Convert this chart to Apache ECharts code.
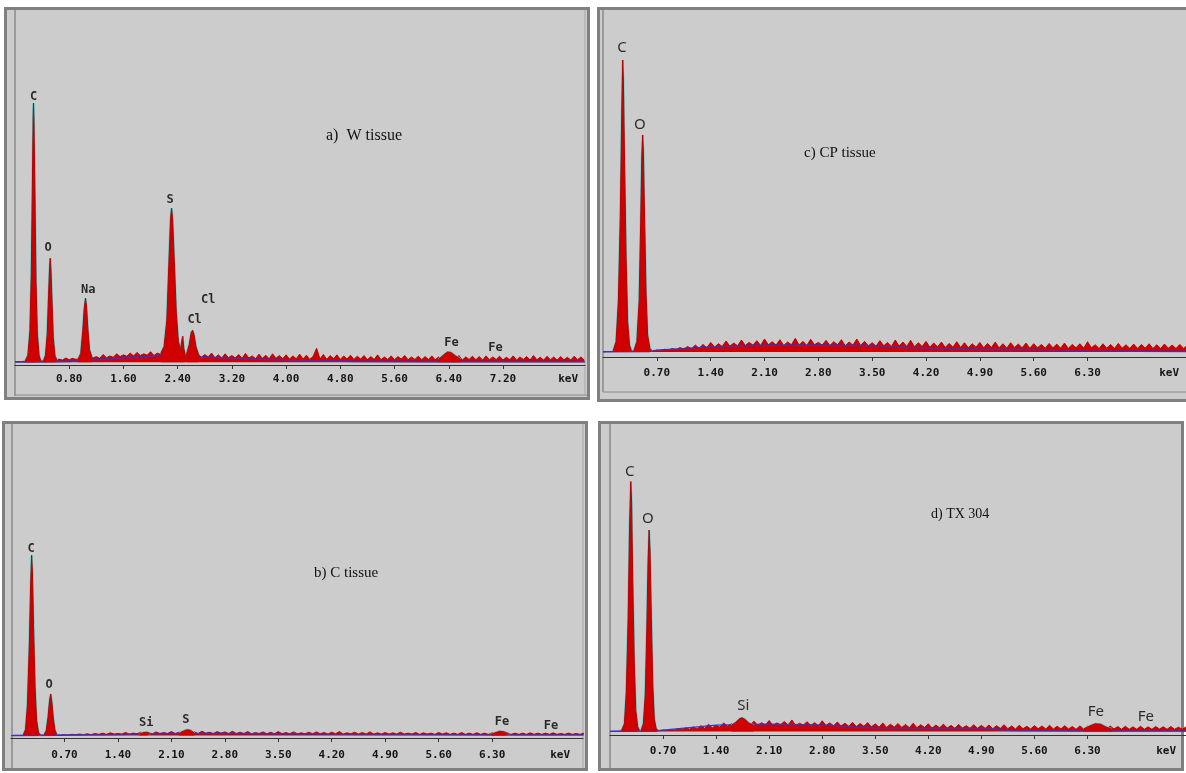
<!DOCTYPE html>
<html><head><meta charset="utf-8">
<script src="https://cdn.jsdelivr.net/npm/echarts@6/dist/echarts.min.js"></script>
<style>html,body{margin:0;padding:0;background:#fff}#chart{width:1186px;height:773px}</style>
</head><body><div id="chart"></div>
<script>
// ---------- shared ----------
const STEP = 0.05; // keV spacing of the background channel values

// ---------- panel a) W tissue ----------
const wTitle = 'a)  W tissue';
const wBackground = [
  1,2,2,3,3,4,4,3,4,5, 4,6,5,9,6,12,7,11,8,13,
  9,14,10,12,16,11,22,13,18,14, 24,16,21,17,26,18,28,19,24,20,
  30,19,26,22,34,24,28,20,32,18, 26,16,27,15,24,14,22,15,26,13,
  21,12,24,13,19,12,22,11,25,12, 18,10,23,11,20,10,24,11,19,10,
  21,9,18,10,23,9,20,8,17,40, 9,22,8,19,10,21,8,18,9,20,
  8,17,9,19,7,16,8,21,7,15, 8,18,7,16,9,19,7,15,8,17,
  7,16,8,18,7,15,9,20,8,17, 7,19,6,15,8,17,7,16,6,18,
  7,15,8,17,6,14,7,18,6,15, 8,16,6,19,7,14,6,17,7,15,
  6,16,7,14,6,17,7,15,6
];
const wPeaks = [
  [[0.15,3],[0.19,20],[0.22,90],[0.24,250],[0.255,480],[0.268,700],[0.273,740],[0.28,690],[0.295,470],[0.31,230],[0.33,80],[0.355,20],[0.38,4]],
  [[0.42,4],[0.45,20],[0.475,80],[0.495,190],[0.51,270],[0.52,297],[0.53,265],[0.545,180],[0.565,70],[0.59,18],[0.62,5]],
  [[0.93,8],[0.97,25],[1.0,90],[1.02,150],[1.04,183],[1.055,160],[1.075,95],[1.1,35],[1.14,12]],
  [[2.15,25],[2.2,45],[2.24,120],[2.27,280],[2.295,410],[2.31,440],[2.325,410],[2.35,290],[2.38,140],[2.41,60],[2.45,30]],
  [[2.44,30],[2.46,60],[2.475,74],[2.49,40],[2.51,22]],
  [[2.53,22],[2.57,50],[2.6,85],[2.62,91],[2.64,80],[2.67,45],[2.71,20]],
  [[6.25,8],[6.32,20],[6.38,29],[6.43,28],[6.5,18],[6.58,8]]
];
const wContinuum = [[0,0],[0.6,1],[0.8,2],[1.2,7],[1.6,12],[2.0,17],[2.2,20],[2.6,16],[3.2,11],[4.0,5],[5.0,2],[6.0,1],[8.41,1]];
const wLabelNames  = ['C','O','Na','S','Cl','Cl','Fe','Fe'];
const wLabelKeV    = [0.273,0.49,1.08,2.29,2.85,2.65,6.44,7.09];
const wLabelCounts = [757,326,206,463,177,120,54,40];
const wTickValues  = [0.8,1.6,2.4,3.2,4.0,4.8,5.6,6.4,7.2];
const wAxisMax = 8.41;

// ---------- panel c) CP tissue ----------
const cpTitle = 'c) CP tissue';
const cpBackground = [
  0,1,1,2,2,3,3,2,3,2, 2,3,2,3,5,4,8,5,10,6,
  13,8,16,9,20,11,22,12,28,14, 24,16,32,17,26,18,35,19,28,20,
  33,19,38,21,30,20,36,19,29,21, 40,20,31,19,37,21,28,20,34,19,
  30,21,36,18,29,20,38,19,31,18, 27,17,33,18,28,16,35,17,29,16,
  34,15,27,16,31,14,26,15,29,13, 25,14,30,13,27,12,24,14,28,12,
  25,13,29,12,24,11,27,13,23,12, 26,11,24,12,22,11,25,12,23,11,
  26,10,22,12,24,11,30,12,21,10, 24,11,22,10,25,11,21,10,23,10,
  22,11,24,10,21,10,23,11,20,10,22,10,21
];
const cpPeaks = [
  [[0.13,2],[0.17,30],[0.2,150],[0.225,400],[0.245,720],[0.256,859],[0.265,800],[0.28,560],[0.3,280],[0.32,90],[0.345,20],[0.37,3]],
  [[0.4,3],[0.44,30],[0.47,150],[0.49,380],[0.505,580],[0.516,638],[0.525,590],[0.54,400],[0.56,170],[0.58,50],[0.61,10],[0.64,3]]
];
const cpContinuum = [[0,0],[0.6,1],[0.7,5],[1.4,15],[2.1,19],[2.8,19],[3.5,18],[4.0,12],[4.9,7],[5.6,6],[6.3,2],[7.58,1]];
const cpLabelNames  = ['C','O'];
const cpLabelKeV    = [0.247,0.48];
const cpLabelCounts = [894,668];
const cpTickValues  = [0.7,1.4,2.1,2.8,3.5,4.2,4.9,5.6,6.3];
const cpAxisMax = 7.58;

// ---------- panel b) C tissue ----------
const cTitle = 'b) C tissue';
const cBackground = [
  0,1,1,1,2,2,2,2,2,2, 2,2,2,2,3,2,4,3,5,3,
  6,3,7,4,8,4,9,5,7,5, 10,5,8,6,11,6,9,6,12,7,
  10,7,13,7,11,8,15,8,12,7, 14,8,11,7,13,8,12,7,14,7,
  11,7,13,6,10,7,12,6,11,6, 13,6,10,6,12,6,9,6,11,6,
  12,6,10,5,11,6,13,5,9,6, 11,5,10,5,12,5,9,5,10,5,
  9,5,11,5,8,5,10,4,9,5, 8,4,10,5,9,4,8,4,10,4,
  8,4,9,4,8,4,9,4,8,4, 9,4,8,4,8,4,9,4,8,4,
  8,4,9,4,7,4,8,4,7,4,8
];
const cPeaks = [
  [[0.16,2],[0.19,20],[0.215,100],[0.24,300],[0.258,500],[0.27,590],[0.28,540],[0.295,360],[0.315,160],[0.335,50],[0.36,10],[0.39,2]],
  [[0.43,2],[0.46,15],[0.485,60],[0.505,115],[0.52,136],[0.535,110],[0.555,55],[0.575,18],[0.6,3]],
  [[1.68,5],[1.74,10],[1.78,11],[1.83,6]],
  [[2.2,7],[2.26,15],[2.31,19],[2.35,17],[2.4,8]],
  [[6.28,4],[6.35,10],[6.4,14],[6.46,12],[6.53,4]]
];
const cContinuum = [[0,0],[0.6,1],[1.4,3],[2.1,6],[2.8,6],[3.5,5],[4.2,4],[5.6,3],[6.3,2],[7.49,2]];
const cLabelNames  = ['C','O','Si','S','Fe','Fe'];
const cLabelKeV    = [0.264,0.50,1.77,2.29,6.43,7.07];
const cLabelCounts = [610,165,41,51,44,31];
const cTickValues  = [0.7,1.4,2.1,2.8,3.5,4.2,4.9,5.6,6.3];
const cAxisMax = 7.49;

// ---------- panel d) TX 304 ----------
const txTitle = 'd) TX 304';
const txBackground = [
  0,1,1,2,2,2,2,2,2,2, 2,2,2,3,4,3,6,4,9,5,
  12,7,15,8,19,10,24,12,20,14, 28,17,25,19,31,20,27,21,34,20,
  29,21,36,20,28,22,33,21,38,20, 27,21,32,20,29,19,35,20,28,19,
  31,18,27,17,30,16,26,17,29,15, 25,14,28,13,24,14,26,13,23,12,
  27,12,22,13,25,11,21,12,24,11, 20,10,23,11,19,10,22,10,20,10,
  21,9,19,10,22,9,18,8,20,9, 17,8,19,9,18,8,20,8,17,8,
  19,8,16,7,18,8,17,7,19,8, 16,7,18,8,16,7,17,7,15,7,
  17,7,15,7,16,8,15,7,16,7,14,7,15
];
const txPeaks = [
  [[0.15,2],[0.19,25],[0.215,130],[0.24,380],[0.258,680],[0.274,829],[0.285,760],[0.3,500],[0.32,230],[0.34,70],[0.365,15],[0.39,3]],
  [[0.41,3],[0.44,25],[0.465,120],[0.485,330],[0.502,560],[0.516,668],[0.528,600],[0.545,380],[0.565,150],[0.585,40],[0.61,8],[0.64,3]],
  [[1.6,20],[1.66,30],[1.71,42],[1.74,45],[1.78,40],[1.83,28],[1.9,20]],
  [[6.25,8],[6.33,18],[6.4,25],[6.47,24],[6.55,14],[6.62,8]]
];
const txContinuum = [[0,0],[0.6,1],[0.7,4],[1.4,21],[2.1,24],[2.8,21],[3.5,11],[4.2,10],[4.9,10],[5.3,3],[6.3,1],[7.6,1]];
const txLabelNames  = ['C','O','Si','Fe','Fe'];
const txLabelKeV    = [0.26,0.50,1.76,6.41,7.07];
const txLabelCounts = [861,705,84,64,48];
const txTickValues  = [0.7,1.4,2.1,2.8,3.5,4.2,4.9,5.6,6.3];
const txAxisMax = 7.6;

// ---------- layout / style (not data) ----------
const panels = [
  {title:wTitle, bg:wBackground, peaks:wPeaks, cont:wContinuum, names:wLabelNames, kev:wLabelKeV, cnt:wLabelCounts,
   ticks:wTickValues, max:wAxisMax,
   grid:{left:15,right:601,top:12,bottom:408}, yMin:-8, margin:9, nameGap:-7,
   titlePos:{left:326,top:128}, titleSize:16, labelFont:'DejaVu Sans Mono', labelSize:12, labelBold:'bold'},
  {title:cpTitle, bg:cpBackground, peaks:cpPeaks, cont:cpContinuum, names:cpLabelNames, kev:cpLabelKeV, cnt:cpLabelCounts,
   ticks:cpTickValues, max:cpAxisMax,
   grid:{left:603,right:0,top:12,bottom:416}, yMin:-15, margin:11, nameGap:-7,
   titlePos:{left:804,top:146}, titleSize:15, labelFont:'Noto Sans', labelSize:15, labelBold:'normal'},
  {title:cTitle, bg:cBackground, peaks:cPeaks, cont:cContinuum, names:cLabelNames, kev:cLabelKeV, cnt:cLabelCounts,
   ticks:cTickValues, max:cAxisMax,
   grid:{left:11,right:603,top:430,bottom:35}, yMin:-8, margin:12, nameGap:-13,
   titlePos:{left:314,top:566}, titleSize:15, labelFont:'DejaVu Sans Mono', labelSize:12, labelBold:'bold'},
  {title:txTitle, bg:txBackground, peaks:txPeaks, cont:txContinuum, names:txLabelNames, kev:txLabelKeV, cnt:txLabelCounts,
   ticks:txTickValues, max:txAxisMax,
   grid:{left:610,right:0,top:430,bottom:38}, yMin:-12, margin:11, nameGap:-10,
   titlePos:{left:931,top:507}, titleSize:14, labelFont:'Noto Sans', labelSize:15, labelBold:'normal'}
];

const tickFont = {fontFamily:'DejaVu Sans Mono', fontSize:11, fontWeight:'bold', color:'#151515'};
const grids = [], xAxes = [], yAxes = [], series = [], titles = [];

panels.forEach((p, i) => {
  grids.push(Object.assign({containLabel:false}, p.grid));
  xAxes.push({
    type:'value', gridIndex:i, min:0, max:p.max,
    axisLine:{show:true, onZero:false, lineStyle:{color:'#333', width:1.2}},
    axisTick:{show:true, length:4, customValues:p.ticks, lineStyle:{color:'#333', width:1}},
    splitLine:{show:false},
    axisLabel:Object.assign({margin:p.margin, customValues:p.ticks,
      formatter: v => Number(v).toFixed(2)}, tickFont),
    name:'keV', nameLocation:'end', nameGap:p.nameGap,
    nameTextStyle:Object.assign({align:'right', verticalAlign:'top', padding:[p.margin,0,0,0]}, tickFont)
  });
  yAxes.push({type:'value', gridIndex:i, min:p.yMin, max:1000, show:false});

  series.push({
    type:'line', xAxisIndex:i, yAxisIndex:i, showSymbol:false, symbol:'none', z:2,
    lineStyle:{color:'#a80000', width:0.9}, areaStyle:{color:'#d00000', opacity:1},
    data:p.bg.map((v, k) => [+(k*STEP).toFixed(2), v])
  });
  series.push({
    type:'line', xAxisIndex:i, yAxisIndex:i, showSymbol:false, symbol:'none', z:3,
    lineStyle:{color:'#3434c8', width:1.3}, data:p.cont
  });
  p.peaks.forEach(pk => {
    series.push({type:'line', xAxisIndex:i, yAxisIndex:i, showSymbol:false, symbol:'none', z:4,
      lineStyle:{color:'#46d0d0', width:2}, data:pk});
    series.push({type:'line', xAxisIndex:i, yAxisIndex:i, showSymbol:false, symbol:'none', z:5,
      lineStyle:{color:'#b80000', width:1}, areaStyle:{color:'#d00000', opacity:1}, data:pk});
  });
  series.push({
    type:'scatter', xAxisIndex:i, yAxisIndex:i, symbolSize:1, z:10, silent:true,
    itemStyle:{color:'rgba(0,0,0,0)'},
    label:{show:true, position:'inside', formatter:q => q.value[2],
      fontFamily:p.labelFont, fontSize:p.labelSize, fontWeight:p.labelBold, color:'#000'},
    data:p.names.map((n, k) => [p.kev[k], p.cnt[k], n])
  });
  titles.push({text:p.title, left:p.titlePos.left, top:p.titlePos.top, padding:0,
    textStyle:{fontFamily:'Liberation Serif', fontWeight:'normal', fontSize:p.titleSize, color:'#111'}});
});

// window frames (decoration)
function frame(x, y, w, h) {
  return {type:'rect', z:-10, shape:{x:x, y:y, width:w, height:h},
    style:{fill:'#cccccc', stroke:'#808080', lineWidth:3}};
}
function ln(x1, y1, x2, y2, c, w) {
  return {type:'line', z:-5, shape:{x1:x1, y1:y1, x2:x2, y2:y2}, style:{stroke:c, lineWidth:w}};
}
const graphic = [
  frame(5.5, 8.5, 583, 390),
  ln(15, 10, 15, 396, '#8a8a8a', 1.5), ln(15, 395, 587, 395, '#8a8a8a', 1), ln(585, 10, 585, 396, '#a8a8a8', 1),
  frame(598.5, 8.5, 620, 392),
  ln(603, 10, 603, 392, '#8a8a8a', 1.5), ln(603, 392, 1186, 392, '#8a8a8a', 1.2),
  frame(3.5, 422.5, 583, 347),
  ln(12, 424, 12, 768, '#8a8a8a', 1.5), ln(583, 424, 583, 768, '#a8a8a8', 1),
  frame(599.5, 422.5, 583, 347),
  ln(610, 424, 610, 768, '#8a8a8a', 1.5)
];

const chart = echarts.init(document.getElementById('chart'), null, {renderer:'canvas'});
chart.setOption({
  animation:false, backgroundColor:'#ffffff',
  title:titles, grid:grids, xAxis:xAxes, yAxis:yAxes, series:series, graphic:graphic
});
</script>
</body></html>
